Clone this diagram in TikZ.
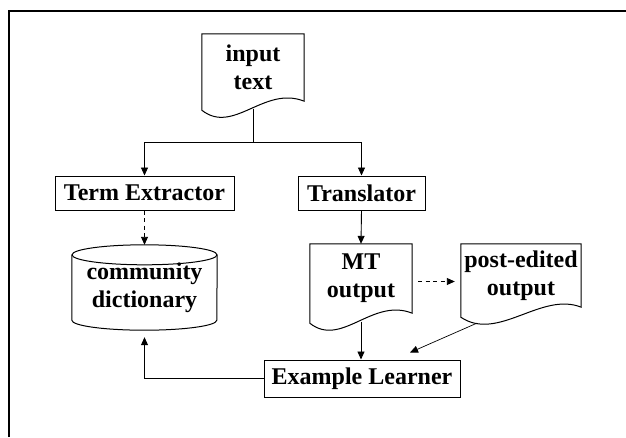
\documentclass[tikz,border=0pt]{standalone}
\usepackage{fontspec}
\setmainfont{Liberation Serif}
\usetikzlibrary{arrows.meta,calc}

% Document outline: node name, node width, extra drop of the lower left corner
\newcommand\docwave[3]{%
  \draw[outline] ($(#1.south west)+(0,#3)$) -- (#1.north west) -- (#1.north east) -- (#1.south east)
    .. controls ($(#1.south east)+(-40,-16)$) and ($(#1.south west)+(0.31*#2,#3+25)$)
    .. ($(#1.south west)+(0,#3)$) -- cycle;}

\begin{document}
\begin{tikzpicture}[x=1pt,y=-1pt,
  font=\fontsize{24}{28}\selectfont\bfseries,
  every node/.style={inner sep=0pt, align=center},
  outline/.style={line width=1pt},
  box/.style={draw, line width=1pt, rectangle},
  plain/.style={line width=0.9pt},
  arr/.style={line width=0.9pt, -{Triangle[length=8pt,width=7pt]}},
  darr/.style={arr, dash pattern=on 4pt off 3.5pt},
]
\useasboundingbox (0,0) rectangle (626,437);
\fill[white] (0,0) rectangle (626,437);

% frame
\draw[line width=2.6pt] (9,437) -- (9,11) -- (626,11);

% nodes
\node[minimum width=102pt, minimum height=67pt] (in) at (253,67.5) {input\\text};
\node[box, minimum width=179pt, minimum height=34pt] (te) at (144.5,193) {Term Extractor};
\node[box, minimum width=127pt, minimum height=34pt] (tr) at (361.5,193) {Translator};
\node[minimum width=145pt, minimum height=65pt] (dict) at (144.5,287.5) {community\\dictionary};
\node[minimum width=102pt, minimum height=69pt] (mt) at (361,278.5) {MT\\output};
\node[minimum width=120pt, minimum height=63pt] (pe) at (521,275.5) {post-edited\\output};
\node[box, minimum width=196pt, minimum height=37pt] (el) at (362,378.5) {Example Learner};

% document shapes
\docwave{in}{102}{9}
\docwave{mt}{102}{10}
\docwave{pe}{120}{10}

% database cylinder
\draw[outline] (dict.north) ellipse [x radius=72.5pt, y radius=10pt];
\draw[outline] (dict.north west) -- (dict.south west)
  arc[start angle=180, end angle=360, x radius=72.5pt, y radius=10pt] -- (dict.north east);

% helper points
\coordinate (inbot) at ($(in.south)+(0,7.5)$);
\coordinate (split) at ($(inbot)+(0,34)$);
\coordinate (dtop) at ($(dict.north)+(0,-10)$);
\coordinate (dbot) at ($(dict.south)+(0,10)$);
\coordinate (mtbot) at ($(mt.south)+(0,8.5)$);
\coordinate (pebot) at ($(pe.south west)+(16,16)$);
\coordinate (eltop) at ($(el.north)+(48,-7)$);
\coordinate (dashA) at ($(mt.east)+(6,3)$);
\coordinate (dashB) at (dashA -| pe.west);

% connectors
\draw[plain] (inbot) -- (split);
\draw[arr] (split) -| (te.north);
\draw[arr] (split) -| (tr.north);
\draw[darr] (te.south) -- (dtop);
\draw[arr] (tr.south) -- (mt.north);
\draw[darr, shorten >=6pt] (dashA) -- (dashB);
\draw[arr] (mtbot) -- (mtbot |- el.north);
\draw[arr, line width=0.7pt] (pebot) -- (eltop);
\draw[arr, shorten >=7pt] (el.west) -| (dbot);
\end{tikzpicture}
\end{document}
